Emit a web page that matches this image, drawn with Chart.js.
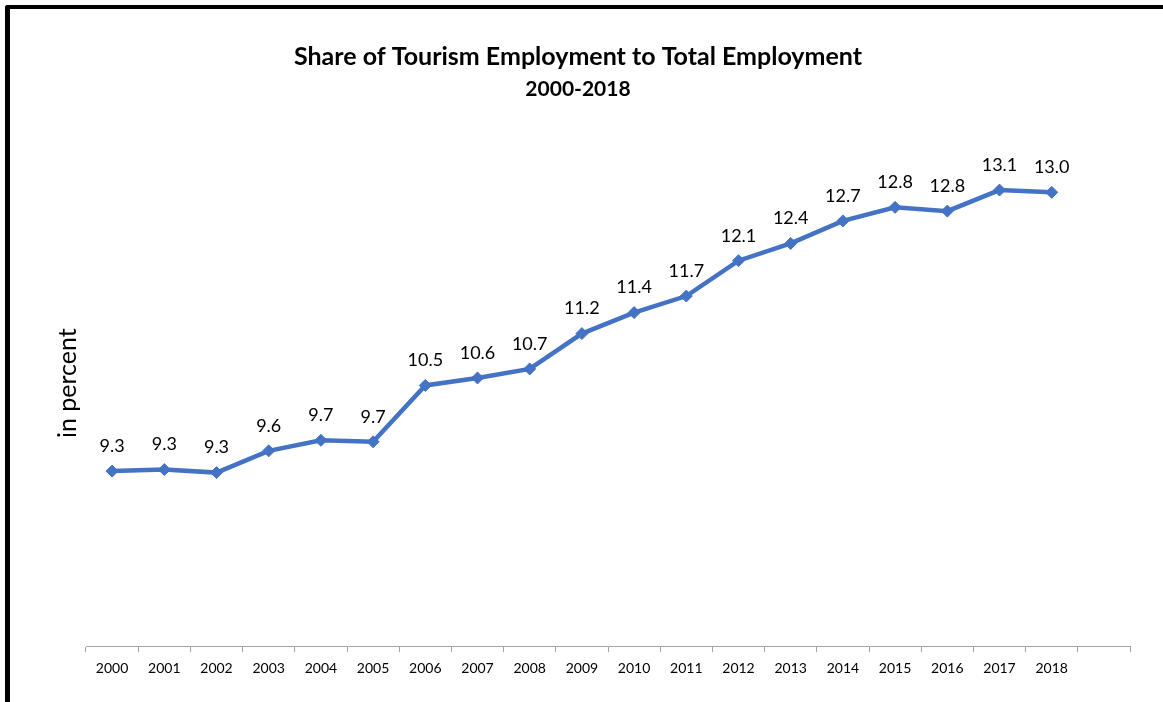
<!DOCTYPE html>
<html>
<head>
<meta charset="utf-8">
<script src="https://cdn.jsdelivr.net/npm/chart.js@4.4.1/dist/chart.umd.min.js"></script>
<style>
  html, body { margin: 0; padding: 0; background: #fff; overflow: hidden; }
  #frame { position: absolute; left: 5px; top: 5px; width: 1300px; height: 900px;
           border-left: 5px solid #000; border-top: 4px solid #000; border-top-left-radius: 3px; }
  #c { position: absolute; left: 0; top: 0; }
</style>
</head>
<body>
<div id="frame"></div>
<canvas id="c" width="1163" height="702"></canvas>
<script>
const categories = ['2000','2001','2002','2003','2004','2005','2006','2007','2008','2009',
                    '2010','2011','2012','2013','2014','2015','2016','2017','2018',''];
const shareValues = [9.33, 9.35, 9.31, 9.60, 9.74, 9.72, 10.47, 10.57, 10.69, 11.16,
                     11.44, 11.66, 12.13, 12.36, 12.66, 12.84, 12.79, 13.07, 13.04];
const titleText = 'Share of Tourism Employment to Total Employment';
const subtitleText = '2000-2018';
const yAxisTitle = 'in percent';

const FONT = 'Lato, "Open Sans", sans-serif';
const BLUE = '#4472C4';

const dataLabelPlugin = {
  id: 'pointValueLabels',
  afterDatasetsDraw(chart) {
    const ctx = chart.ctx;
    const meta = chart.getDatasetMeta(0);
    const values = chart.data.datasets[0].data;
    ctx.save();
    ctx.font = '18px ' + FONT;
    ctx.fillStyle = '#000';
    ctx.textAlign = 'center';
    ctx.textBaseline = 'middle';
    meta.data.forEach((pt, i) => {
      if (values[i] == null) return;
      ctx.fillText(values[i].toFixed(1), pt.x, pt.y - 25);
    });
    ctx.restore();
  }
};

new Chart(document.getElementById('c'), {
  type: 'line',
  data: {
    labels: categories,
    datasets: [{
      data: shareValues,
      borderColor: BLUE,
      backgroundColor: BLUE,
      borderWidth: 4.5,
      pointStyle: 'rectRot',
      pointRadius: 6,
      pointBackgroundColor: BLUE,
      pointBorderColor: BLUE,
      pointBorderWidth: 1,
      tension: 0,
      fill: false
    }]
  },
  options: {
    responsive: false,
    animation: false,
    devicePixelRatio: 1,
    layout: { padding: { left: 26, right: 33, top: 0, bottom: 17 } },
    plugins: {
      legend: { display: false },
      tooltip: { enabled: false },
      title: {
        display: true,
        text: titleText,
        color: '#000',
        font: { family: FONT, size: 25, weight: 'bold', lineHeight: 1.2 },
        padding: { top: 42, bottom: 0 }
      },
      subtitle: {
        display: true,
        text: subtitleText,
        color: '#000',
        font: { family: FONT, size: 21, weight: 'bold', lineHeight: 1.2 },
        padding: { top: 5, bottom: 18 }
      }
    },
    scales: {
      x: {
        type: 'category',
        offset: true,
        grid: { display: true, drawOnChartArea: false, drawTicks: true, tickLength: 6,
                offset: true, color: '#a6a6a6', lineWidth: 1 },
        border: { display: true, color: '#a6a6a6', width: 1 },
        ticks: { color: '#000', font: { family: FONT, size: 14 }, padding: 8,
                 maxRotation: 0, autoSkip: false }
      },
      y: {
        min: 7,
        max: 14,
        grid: { display: false },
        border: { display: false },
        ticks: { display: false },
        title: {
          display: true,
          text: yAxisTitle,
          color: '#000',
          font: { family: FONT, size: 25 },
          padding: { top: 27, bottom: 4 }
        },
        afterFit(scale) { scale.width = 60; }
      }
    }
  },
  plugins: [dataLabelPlugin]
});
</script>
</body>
</html>
